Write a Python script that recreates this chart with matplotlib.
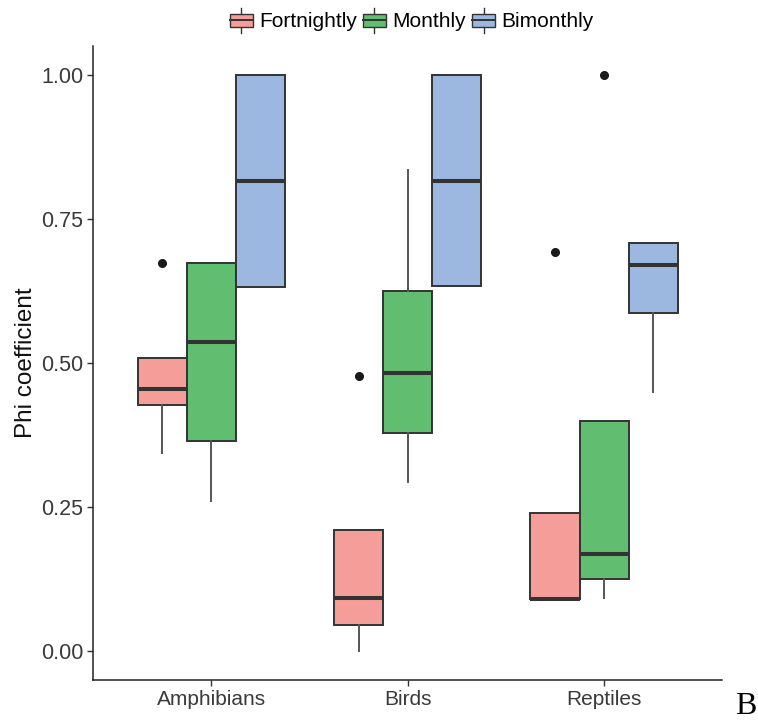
import matplotlib.pyplot as plt
from matplotlib.legend_handler import HandlerBase
from matplotlib.patches import Patch, Rectangle
from matplotlib.lines import Line2D

plt.rcParams['font.family'] = ['Liberation Sans', 'DejaVu Sans']

groups = ['Amphibians', 'Birds', 'Reptiles']
periods = ['Fortnightly', 'Monthly', 'Bimonthly']
colors = ['#F59D99', '#61BD6F', '#9CB8E0']

# box summaries per group, one entry per period: (whislo, q1, med, q3, whishi)
amphibians = [(0.343, 0.427, 0.454, 0.509, 0.509),
              (0.260, 0.365, 0.537, 0.674, 0.674),
              (0.632, 0.632, 0.815, 1.000, 1.000)]
birds = [(0.000, 0.045, 0.092, 0.210, 0.210),
         (0.293, 0.379, 0.482, 0.625, 0.835),
         (0.633, 0.633, 0.816, 1.000, 1.000)]
reptiles = [(0.091, 0.091, 0.091, 0.240, 0.240),
            (0.092, 0.125, 0.168, 0.399, 0.399),
            (0.449, 0.586, 0.670, 0.708, 0.708)]
# outlying points
amphibians_out = [[0.674], [], []]
birds_out = [[0.477], [], []]
reptiles_out = [[0.692], [1.000], []]

summaries = [amphibians, birds, reptiles]
outliers = [amphibians_out, birds_out, reptiles_out]


class BoxKey(HandlerBase):
    # little boxplot glyph for the legend
    def create_artists(self, legend, orig_handle, xdescent, ydescent,
                       width, height, fontsize, trans):
        x0, y0 = -xdescent, -ydescent
        cx = x0 + width / 2
        whisk = Line2D([cx, cx], [y0, y0 + height], color='#333333',
                       lw=1.0, transform=trans)
        box = Rectangle((x0, y0 + height * 0.25), width, height * 0.5,
                        facecolor=orig_handle.get_facecolor(),
                        edgecolor='#333333', lw=1.0, transform=trans)
        med = Line2D([x0, x0 + width], [y0 + height / 2] * 2,
                     color='#333333', lw=1.4, transform=trans)
        return [whisk, box, med]


fig = plt.figure(figsize=(7.58, 7.24), dpi=100)
ax = fig.add_axes([0.1231, 0.0608, 0.8294, 0.8757])

offsets = [-0.25, 0.0, 0.25]
for gi, g in enumerate(groups):
    for pi, p in enumerate(periods):
        lo, q1, med, q3, hi = summaries[gi][pi]
        st = dict(whislo=lo, q1=q1, med=med, q3=q3, whishi=hi,
                  fliers=outliers[gi][pi], label=p)
        ax.bxp([st], positions=[gi + 1 + offsets[pi]], widths=0.25,
               patch_artist=True, showcaps=False,
               boxprops=dict(facecolor=colors[pi], edgecolor='#333333', lw=1.4),
               medianprops=dict(color='#333333', lw=2.9, solid_capstyle='butt'),
               whiskerprops=dict(color='#555555', lw=1.4),
               flierprops=dict(marker='o', markerfacecolor='#1a1a1a',
                               markeredgecolor='#1a1a1a', markersize=5.5))

ax.set_xlim(0.4, 3.6)
ax.set_ylim(-0.05, 1.05)
ax.set_xticks([1, 2, 3])
ax.set_xticklabels(groups)
ax.set_yticks([0, 0.25, 0.5, 0.75, 1.0])
ax.set_yticklabels(['0.00', '0.25', '0.50', '0.75', '1.00'])
ax.tick_params(labelsize=15, labelcolor='#3a3a3a', length=4, width=1.0,
               color='#333333', pad=3)
ax.tick_params(axis='y', labelsize=15.5)
ax.set_ylabel('Phi coefficient', fontsize=17.5, color='#111111', labelpad=3)
for s in ['top', 'right']:
    ax.spines[s].set_visible(False)
for s in ['left', 'bottom']:
    ax.spines[s].set_linewidth(1.1)
    ax.spines[s].set_color('#222222')

handles = [Patch(facecolor=c, label=p) for c, p in zip(colors, periods)]
fig.legend(handles=handles, loc='center', bbox_to_anchor=(0.543, 0.972),
           ncol=3, frameon=False, fontsize=15, handler_map={Patch: BoxKey()},
           handlelength=1.1, handleheight=1.5, handletextpad=0.3,
           columnspacing=0.3)

fig.text(0.998, 0.004, 'B', fontsize=23, family='Liberation Serif',
         ha='right', va='bottom')

fig.savefig('out.png', dpi=100)
